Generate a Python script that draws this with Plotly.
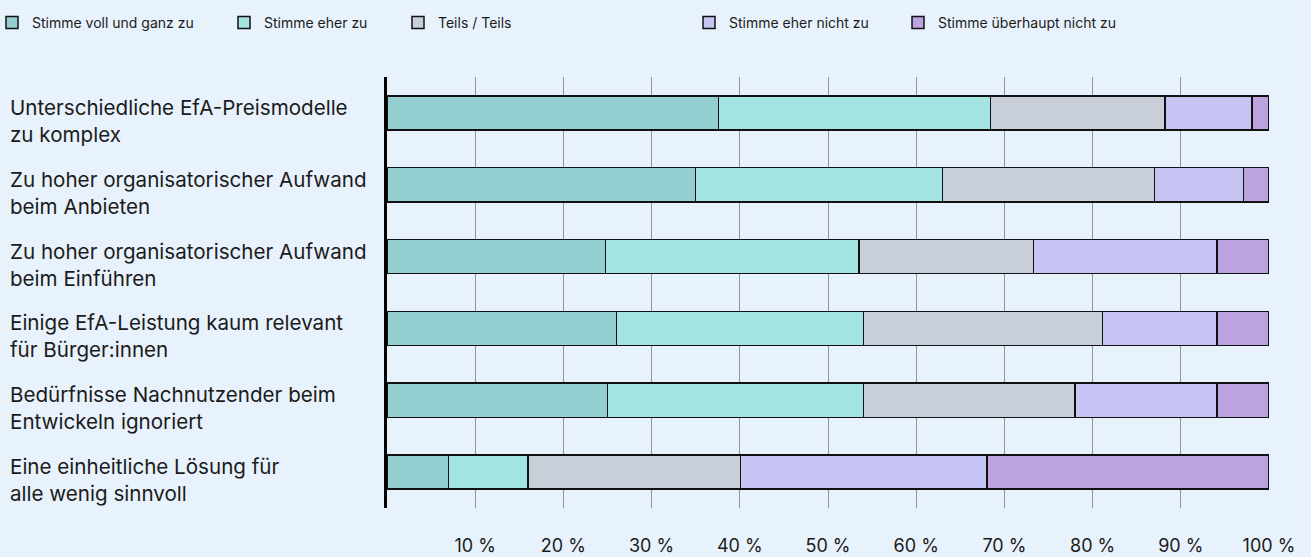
import plotly.graph_objects as go

categories = [
    "Unterschiedliche EfA-Preismodelle<br>zu komplex",
    "Zu hoher organisatorischer Aufwand<br>beim Anbieten",
    "Zu hoher organisatorischer Aufwand<br>beim Einführen",
    "Einige EfA-Leistung kaum relevant<br>für Bürger:innen",
    "Bedürfnisse Nachnutzender beim<br>Entwickeln ignoriert",
    "Eine einheitliche Lösung für<br>alle wenig sinnvoll",
]
series_names = [
    "Stimme voll und ganz zu",
    "Stimme eher zu",
    "Teils / Teils",
    "Stimme eher nicht zu",
    "Stimme überhaupt nicht zu",
]
voll_zu = [37.6, 35.0, 24.8, 26.0, 25.0, 7.0]
eher_zu = [30.8, 28.0, 28.7, 28.0, 29.0, 9.0]
teils = [19.8, 24.0, 19.8, 27.1, 24.0, 24.1]
eher_nicht = [9.9, 10.1, 20.8, 13.0, 16.1, 27.9]
ueberhaupt_nicht = [1.9, 2.9, 5.9, 5.9, 5.9, 32.0]
series_values = [voll_zu, eher_zu, teils, eher_nicht, ueberhaupt_nicht]
tick_values = [10, 20, 30, 40, 50, 60, 70, 80, 90, 100]
tick_labels = ["10 %", "20 %", "30 %", "40 %", "50 %", "60 %", "70 %", "80 %", "90 %", "100 %"]

colors = ["#93CFD0", "#A3E3E2", "#C8CFD9", "#C6C4F2", "#BDA2E0"]
legend_ids = ["legend", "legend2", "legend3", "legend4", "legend5"]
legend_px = [6, 238, 412, 703, 912]  # symbol left edge in px

FONT = "Inter"
TXT = "#1b1b1b"
BG = "#E8F2FC"

W, H = 1311, 557
L, R, T, B = 387, 42, 77, 49
pw = W - L - R
ph = H - T - B

fig = go.Figure()
for name, vals, col, lid in zip(series_names, series_values, colors, legend_ids):
    fig.add_trace(go.Bar(
        y=categories, x=vals, name=name, orientation="h",
        marker=dict(color=col, line=dict(color="#111111", width=1.5)),
        width=0.475, legend=lid, hoverinfo="x+name",
    ))

layout_legends = {}
for lid, px in zip(legend_ids, legend_px):
    layout_legends[lid] = dict(
        x=(px - 14 - L) / pw, xanchor="left",
        y=(H - B - 23) / ph, yanchor="middle",
        orientation="h", bgcolor="rgba(0,0,0,0)",
        font=dict(family=FONT, size=14, color=TXT),
        borderwidth=0,
    )

annotations = []
for c in categories:
    annotations.append(dict(
        x=(8 - L) / pw, xref="paper", xanchor="left",
        y=c, yref="y", yanchor="middle", yshift=-8,
        text=c, showarrow=False, align="left",
        font=dict(family=FONT, size=20.6, color=TXT),
    ))

fig.update_layout(
    width=W, height=H,
    barmode="stack",
    paper_bgcolor=BG, plot_bgcolor=BG,
    margin=dict(l=L, r=R, t=T, b=B, autoexpand=False),
    font=dict(family=FONT, color=TXT),
    showlegend=True,
    annotations=annotations,
    xaxis=dict(
        range=[0, 100], tickvals=tick_values, ticktext=tick_labels,
        showgrid=True, gridcolor="#8E949C", gridwidth=1.2,
        zeroline=False, showline=False, ticks="",
        ticklabelstandoff=25,
        tickfont=dict(family=FONT, size=18, color=TXT),
        fixedrange=True,
    ),
    yaxis=dict(
        categoryorder="array", categoryarray=categories,
        range=[len(categories) - 0.5, -0.5],
        showticklabels=False, showgrid=False, zeroline=False,
        showline=True, linecolor="#000000", linewidth=3, ticks="",
        fixedrange=True,
    ),
    **layout_legends,
)

fig.write_html(
    "out.html",
    config={"displayModeBar": False},
    post_script="document.body.style.margin='0';",
)
